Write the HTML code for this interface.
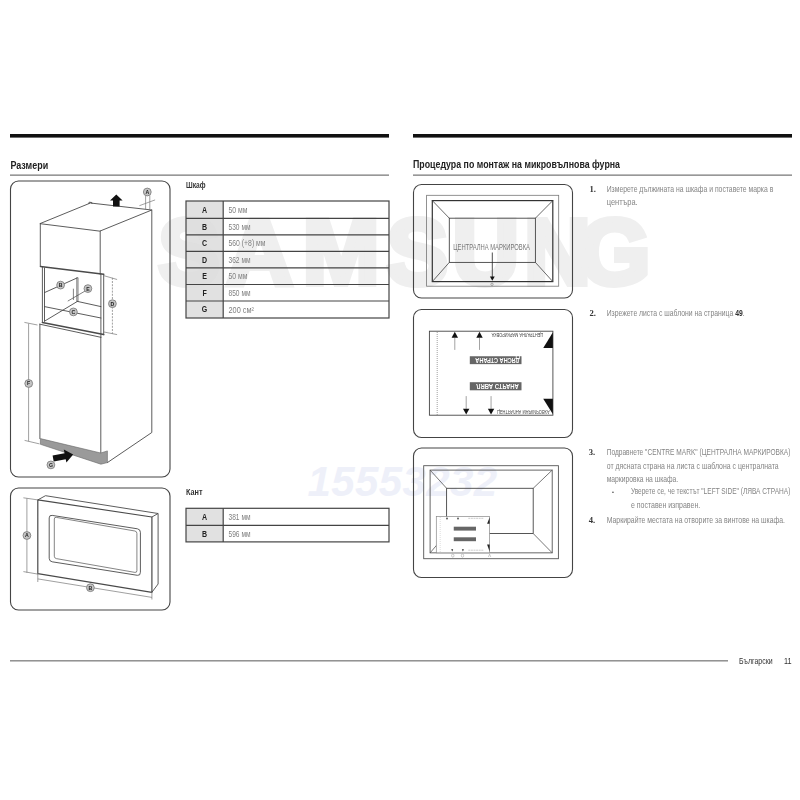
<!DOCTYPE html>
<html lang="bg">
<head>
<meta charset="utf-8">
<title>Размери</title>
<style>
html,body{margin:0;padding:0;background:#fff;}
body{width:800px;height:800px;position:relative;overflow:hidden;font-family:"Liberation Sans",sans-serif;}
#g{position:absolute;left:0;top:0;will-change:transform;}
.t{position:absolute;white-space:nowrap;line-height:1;transform-origin:0 0;}
.wm{position:absolute;white-space:nowrap;line-height:1;font-weight:bold;}
.h{font-size:10.5px;color:#222;font-weight:bold;}
.b{font-size:9px;color:#8a8a8a;}
.n{font-size:9px;color:#333;font-weight:bold;font-family:"Liberation Serif",serif;}
.l{font-size:9px;color:#222;font-weight:bold;width:37px;text-align:center;}
.v{font-size:8.5px;color:#8c8c8c;}
</style>
</head>
<body>
<!-- watermarks -->
<div class="wm" style="left:307.5px;top:460.5px;font-size:42px;color:#eef0f9;font-style:italic;letter-spacing:0.4px;">15553232</div>

<svg id="g" width="800" height="800" viewBox="0 0 800 800">
<text x="189 259.5 341 417.5 485.75 557.5 614.5" y="283.5" text-anchor="middle" font-family="Liberation Sans, sans-serif" font-weight="bold" font-size="92" fill="#efefef" stroke="#efefef" stroke-width="6" stroke-linejoin="miter">SAMSUNG</text>
<!-- top bars -->
<rect x="10" y="134" width="379" height="3.6" fill="#111"/>
<rect x="413" y="134" width="379" height="3.6" fill="#111"/>
<!-- thin rules -->
<rect x="10" y="174.6" width="379" height="1" fill="#555"/>
<rect x="413" y="174.6" width="379" height="1" fill="#555"/>
<!-- footer rule -->
<rect x="10" y="660.3" width="718" height="1.1" fill="#666"/>
<!-- rounded boxes -->
<g fill="none" stroke="#444" stroke-width="1.1">
<rect x="10.5" y="181" width="159.5" height="296" rx="8" ry="8"/>
<rect x="10.5" y="488" width="159.5" height="122" rx="8" ry="8"/>
<rect x="413.5" y="184.5" width="159" height="113.5" rx="8" ry="8"/>
<rect x="413.5" y="309.5" width="159" height="128" rx="8" ry="8"/>
<rect x="413.5" y="448" width="159" height="129.5" rx="8" ry="8"/>
</g>
<!-- table 1 -->
<rect x="186" y="201" width="37" height="117" fill="#dcdcdc" fill-opacity="0.85"/>
<g fill="none" stroke="#444" stroke-width="1.2">
<rect x="186" y="201" width="203" height="117"/>
<path d="M223.2 201V318M186 218.4H389M186 234.9H389M186 251.3H389M186 267.9H389M186 284.5H389M186 301H389"/>
</g>
<!-- table 2 -->
<rect x="186" y="508.3" width="37" height="33.6" fill="#dcdcdc" fill-opacity="0.85"/>
<g fill="none" stroke="#444" stroke-width="1.2">
<rect x="186" y="508.3" width="203" height="33.6"/>
<path d="M223.2 508.3V541.9M186 525.3H389"/>
</g>

<!-- cabinet drawing -->
<g fill="none" stroke="#4a4a4a" stroke-width="0.9" stroke-linejoin="round" stroke-linecap="round">
<!-- top face -->
<path d="M40.3 223.5L90.4 203L151.8 210L100.2 231Z"/>
<path d="M88.8 203.4l0.4-1.2l2.6 0.3l0.2 1"/>
<!-- upper front -->
<path d="M40.3 223.5V266.4M100.2 231V274.3"/>
<!-- right side -->
<path d="M151.8 210V432.5L107.4 462.6"/>
<!-- niche top edge (thick) -->
<path d="M40.5 266.4L103.7 274.2" stroke-width="1.5"/>
<!-- niche left edges -->
<path d="M42.4 267V322.4M44.5 268V321.2"/>
<!-- niche right edges -->
<path d="M100.9 274V337M103.7 274.3V334.8"/>
<!-- inner back corner -->
<path d="M76.8 277.8V301.4M78 278V301.6" stroke-width="0.7"/>
<!-- B line -->
<path d="M44.5 292.6L77.4 277.8"/>
<!-- floor-left edge -->
<path d="M44.5 321.2L77.4 301.4"/>
<!-- floor-back edge -->
<path d="M77.4 301.4L100.9 306.6"/>
<!-- C line -->
<path d="M44.5 306.6L100.9 318"/>
<!-- E pointer and tick -->
<path d="M85.5 290.8L68.1 300.9M73.4 289.1V299.6" stroke-width="0.7"/>
<!-- bottom of niche -->
<path d="M42.4 322.4L103.7 334.6" stroke-width="1.5"/>
<path d="M39.8 324.2L100.9 337.3"/>
<!-- lower cabinet -->
<path d="M39.9 324.2V438.6M100.8 337.3V453"/>
</g>
<!-- plinth -->
<path d="M40.4 438.6L100.75 453L107.4 450.9V462.6L100.9 464.2L40.4 444.3Z" fill="#9a9a9a" stroke="#666" stroke-width="0.6"/>
<!-- dimension lines -->
<g fill="none" stroke="#777" stroke-width="0.7">
<path d="M112.4 277.8V333.8" stroke-dasharray="2 1.2"/>
<path d="M104 275.7L117.1 279.5M104 332L117.1 334.6"/>
<path d="M28.6 323.6V441.3M24.4 322.4L37.5 325M24.6 440.4L39.5 443.9"/>
<path d="M145.6 195.5V209.3M149.8 195.5V209.8M139.4 205.7L155.1 199.9"/>
</g>
<!-- arrows -->
<path d="M116.3 194.4L122.6 200.6H119.6V206.6H113V200.6H110Z" fill="#111"/>
<path d="M52.6 455.6L64.6 453.2L63.8 449.6L73.2 454.6L66.4 462.6L65.7 459.2L53.7 461.6Z" fill="#111"/>
<!-- circle labels -->
<g fill="#c4c4c4" stroke="#777" stroke-width="0.8">
<circle cx="147.3" cy="192" r="3.9"/>
<circle cx="60.6" cy="285.1" r="3.9"/>
<circle cx="87.9" cy="288.6" r="3.9"/>
<circle cx="73.4" cy="311.9" r="3.9"/>
<circle cx="112.4" cy="303.7" r="3.9"/>
<circle cx="28.7" cy="383.5" r="3.9"/>
<circle cx="50.9" cy="464.9" r="3.9"/>
</g>
<g font-family="Liberation Sans, sans-serif" font-size="5.2" font-weight="bold" fill="#222" text-anchor="middle">
<text x="147.3" y="193.9">A</text>
<text x="60.6" y="287">B</text>
<text x="87.9" y="290.5">E</text>
<text x="73.4" y="313.8">C</text>
<text x="112.4" y="305.6">D</text>
<text x="28.7" y="385.4">F</text>
<text x="50.9" y="466.8">G</text>
</g>

<!-- frame drawing -->
<g fill="none" stroke="#4a4a4a" stroke-width="0.9" stroke-linejoin="round">
<path d="M37.8 499.9L151.9 517V592.3L37.8 573.7Z" stroke-width="1.2"/>
<path d="M37.8 499.9L45.5 495.7L158.1 513.5L151.9 517"/>
<path d="M158.1 513.5V584L151.9 592.3"/>
<path d="M52.2 515.4L137.4 528.8Q140.4 529.3 140.4 532.3V572.3Q140.4 575.8 137.4 575.3L52.2 561.8Q49.2 561.3 49.2 558.3V517.9Q49.2 514.9 52.2 515.4Z"/>
<path d="M56.3 517.4L134.9 531Q136.9 531.4 136.9 533.4V570.7Q136.9 572.7 134.9 572.4L56.3 558.6Q54.3 558.2 54.3 556.2V519Q54.3 517 56.3 517.4Z" stroke="#666" stroke-width="0.8"/>
</g>
<g fill="none" stroke="#777" stroke-width="0.7">
<path d="M26.9 498.4V572.7M23.4 497.8L37.8 499.9M23.4 571.6L37.8 574.1"/>
<path d="M37.8 578.9L151.9 597.4M37.8 574V582M151.9 592V599.5"/>
</g>
<g fill="#c4c4c4" stroke="#777" stroke-width="0.8">
<circle cx="26.9" cy="535.5" r="3.9"/>
<circle cx="90.4" cy="587.7" r="3.9"/>
</g>
<g font-family="Liberation Sans, sans-serif" font-size="5.2" font-weight="bold" fill="#222" text-anchor="middle">
<text x="26.9" y="537.4">A</text>
<text x="90.4" y="589.6">B</text>
</g>

<!-- box 1 -->
<g fill="none" stroke-linejoin="miter">
<rect x="426.6" y="195.3" width="132.1" height="90.9" stroke="#777" stroke-width="0.8"/>
<rect x="432.3" y="200.6" width="120.5" height="81" stroke="#333" stroke-width="1.2"/>
<rect x="449.3" y="218.2" width="86.1" height="44.2" stroke="#444" stroke-width="0.9"/>
<path d="M432.3 200.6L449.3 218.2M552.8 200.6L535.4 218.2M432.3 281.6L449.3 262.4M552.8 281.6L535.4 262.4" stroke="#444" stroke-width="0.8"/>
<path d="M492.3 252.5V277" stroke="#222" stroke-width="0.8"/>
<circle cx="492" cy="284.3" r="1.2" stroke="#666" stroke-width="0.5"/>
</g>
<path d="M489.9 276.6H494.7L492.3 280.8Z" fill="#111"/>
<text x="453.2" y="250.3" font-family="Liberation Sans, sans-serif" font-size="8.2" fill="#777" textLength="76.8" lengthAdjust="spacingAndGlyphs">ЦЕНТРАЛНА МАРКИРОВКА</text>

<!-- box 2 -->
<rect x="429.4" y="331.2" width="123.5" height="84" fill="none" stroke="#444" stroke-width="0.9"/>
<path d="M437.2 332V415" fill="none" stroke="#777" stroke-width="0.7" stroke-dasharray="1 1"/>
<g fill="none" stroke="#999" stroke-width="0.9">
<path d="M454.8 337.8V349.9M479.5 337.8V349.9M466.2 396.1V408.8M491.05 396.1V408.8"/>
</g>
<g fill="#111">
<path d="M454.8 331.8L458 337.8H451.6Z"/>
<path d="M479.5 331.8L482.7 337.8H476.3Z"/>
<path d="M466.2 414.6L469.4 408.8H463Z"/>
<path d="M491.05 414.6L494.25 408.8H487.85Z"/>
<path d="M552.9 332.3V348.1H543.25Z"/>
<path d="M543.25 398.8H552.9V414.25Z"/>
</g>
<rect x="469.8" y="356.25" width="51.7" height="7.9" fill="#666"/>
<rect x="469.8" y="382.2" width="51.7" height="8.1" fill="#666"/>
<g font-family="Liberation Sans, sans-serif">
<text transform="translate(519.7 357.7) rotate(180)" x="0" y="0" font-size="7" font-weight="bold" fill="#fff" textLength="44.4" lengthAdjust="spacingAndGlyphs">ДЯСНА СТРАНА</text>
<text transform="translate(476.2 383.8) scale(1 -1)" x="0" y="0" font-size="7" font-weight="bold" fill="#fff" textLength="42.6" lengthAdjust="spacingAndGlyphs">ЛЯВА СТРАНА</text>
<text transform="translate(543.25 333) rotate(180)" x="0" y="0" font-size="6" fill="#444" textLength="51.6" lengthAdjust="spacingAndGlyphs">ЦЕНТРАЛНА МАРКИРОВКА</text>
<text transform="translate(497 409.8) scale(1 -1)" x="0" y="0" font-size="6" fill="#444" textLength="52.6" lengthAdjust="spacingAndGlyphs">ЦЕНТРАЛНА МАРКИРОВКА</text>
</g>

<!-- box 3 -->
<g fill="none">
<rect x="423.7" y="465.7" width="134.7" height="93" stroke="#555" stroke-width="0.9"/>
<rect x="430.1" y="470.1" width="122.1" height="82.75" stroke="#555" stroke-width="0.9"/>
<rect x="446.6" y="488.3" width="86.6" height="45.2" stroke="#444" stroke-width="0.9"/>
<path d="M430.1 470.1L446.6 488.3M552.2 470.1L533.2 488.3M430.1 552.85L446.6 533.5M552.2 552.85L533.2 533.5" stroke="#555" stroke-width="0.8"/>
</g>
<rect x="436.3" y="516.6" width="53.3" height="36.25" fill="#fff" stroke="#888" stroke-width="0.7"/>
<path d="M440.2 517V552.5" fill="none" stroke="#bbb" stroke-width="0.5" stroke-dasharray="1 1"/>
<rect x="453.75" y="526.7" width="22.25" height="3.9" fill="#666"/>
<rect x="453.75" y="537.3" width="22.25" height="3.9" fill="#666"/>
<g fill="#222">
<path d="M489.6 517.4V523.8H487.1Z"/>
<path d="M487.1 544.5H489.6V551.5Z"/>
<path d="M447 516.9L448 519.2H446Z"/>
<path d="M458 516.9L459 519.2H457Z"/>
<path d="M452.2 551.6L453.2 549.3H451.2Z"/>
<path d="M462.9 551.6L463.9 549.3H461.9Z"/>
</g>
<g fill="none" stroke="#999" stroke-width="0.5">
<path d="M468.3 518.3H483.8M468.3 550.2H483.8" stroke-dasharray="2 0.6"/>
<ellipse cx="452.8" cy="555.6" rx="1.2" ry="1.6"/>
<ellipse cx="462.5" cy="555.6" rx="1.2" ry="1.6"/>
<path d="M488.4 557L489.6 554.2L490.8 557"/>
</g>

<!-- text -->
<g font-family="Liberation Sans, sans-serif" lengthAdjust="spacingAndGlyphs">
<text x="10.4" y="168.7" font-size="10.8" font-weight="bold" fill="#222" textLength="37.8" lengthAdjust="spacingAndGlyphs">Размери</text>
<text x="413" y="168.4" font-size="10.8" font-weight="bold" fill="#222" textLength="207" lengthAdjust="spacingAndGlyphs">Процедура по монтаж на микровълнова фурна</text>
<text x="186" y="187.8" font-size="8.6" font-weight="bold" fill="#333" textLength="19.5" lengthAdjust="spacingAndGlyphs">Шкаф</text>
<text x="186" y="495.2" font-size="8.6" font-weight="bold" fill="#333" textLength="16.5" lengthAdjust="spacingAndGlyphs">Кант</text>
<g font-size="8.8" font-weight="bold" fill="#222" text-anchor="middle" transform="scale(0.8 1)">
<text x="255.75" y="213">A</text>
<text x="255.75" y="229.6">B</text>
<text x="255.75" y="246.1">C</text>
<text x="255.75" y="262.6">D</text>
<text x="255.75" y="279.2">E</text>
<text x="255.75" y="295.8">F</text>
<text x="255.75" y="312.5">G</text>
<text x="255.75" y="520">A</text>
<text x="255.75" y="536.6">B</text>
</g>
<g font-size="8.2" fill="#808080">
<text x="228.5" y="213" textLength="19" lengthAdjust="spacingAndGlyphs">50 мм</text>
<text x="228.5" y="229.6" textLength="22" lengthAdjust="spacingAndGlyphs">530 мм</text>
<text x="228.5" y="246.1" textLength="37" lengthAdjust="spacingAndGlyphs">560 (+8) мм</text>
<text x="228.5" y="262.6" textLength="22" lengthAdjust="spacingAndGlyphs">362 мм</text>
<text x="228.5" y="279.2" textLength="19" lengthAdjust="spacingAndGlyphs">50 мм</text>
<text x="228.5" y="295.8" textLength="22" lengthAdjust="spacingAndGlyphs">850 мм</text>
<text x="228.5" y="312.5" textLength="25.5" lengthAdjust="spacingAndGlyphs">200 см²</text>
<text x="228.5" y="520" textLength="22" lengthAdjust="spacingAndGlyphs">381 мм</text>
<text x="228.5" y="536.6" textLength="22" lengthAdjust="spacingAndGlyphs">596 мм</text>
</g>
<g font-family="Liberation Serif, serif" font-size="8.6" font-weight="bold" fill="#333">
<text x="589.4" y="191.8">1.</text>
<text x="589.4" y="316.2">2.</text>
<text x="588.8" y="455.2">3.</text>
<text x="588.8" y="522.5">4.</text>
</g>
<g font-size="8.4" fill="#848484">
<text x="606.7" y="191.8" textLength="166.6" lengthAdjust="spacingAndGlyphs">Измерете дължината на шкафа и поставете марка в</text>
<text x="606.7" y="204.7" textLength="31" lengthAdjust="spacingAndGlyphs">центъра.</text>
<text x="606.7" y="316.2" textLength="138" lengthAdjust="spacingAndGlyphs">Изрежете листа с шаблони на страница <tspan font-weight="bold" fill="#333">49</tspan>.</text>
<text x="606.7" y="455.2" textLength="183.7" lengthAdjust="spacingAndGlyphs">Подравнете "CENTRE MARK" (ЦЕНТРАЛНА МАРКИРОВКА)</text>
<text x="606.7" y="468.6" textLength="172" lengthAdjust="spacingAndGlyphs">от дясната страна на листа с шаблона с централната</text>
<text x="606.7" y="481.6" textLength="71.5" lengthAdjust="spacingAndGlyphs">маркировка на шкафа.</text>
<text x="612" y="493.8" font-size="5.5" fill="#444">•</text>
<text x="630.9" y="494.4" textLength="159.5" lengthAdjust="spacingAndGlyphs">Уверете се, че текстът "LEFT SIDE" (ЛЯВА СТРАНА)</text>
<text x="630.9" y="508" textLength="69.3" lengthAdjust="spacingAndGlyphs">е поставен изправен.</text>
<text x="606.7" y="522.5" textLength="178.2" lengthAdjust="spacingAndGlyphs">Маркирайте местата на отворите за винтове на шкафа.</text>
</g>
<text x="739" y="663.9" font-size="8.4" fill="#333" textLength="33.6" lengthAdjust="spacingAndGlyphs">Български</text>
<text x="783.9" y="663.9" font-size="8.6" fill="#333" textLength="7.6" lengthAdjust="spacingAndGlyphs">11</text>
</g>
</svg>

<!-- TEXT -->
</body>
</html>
